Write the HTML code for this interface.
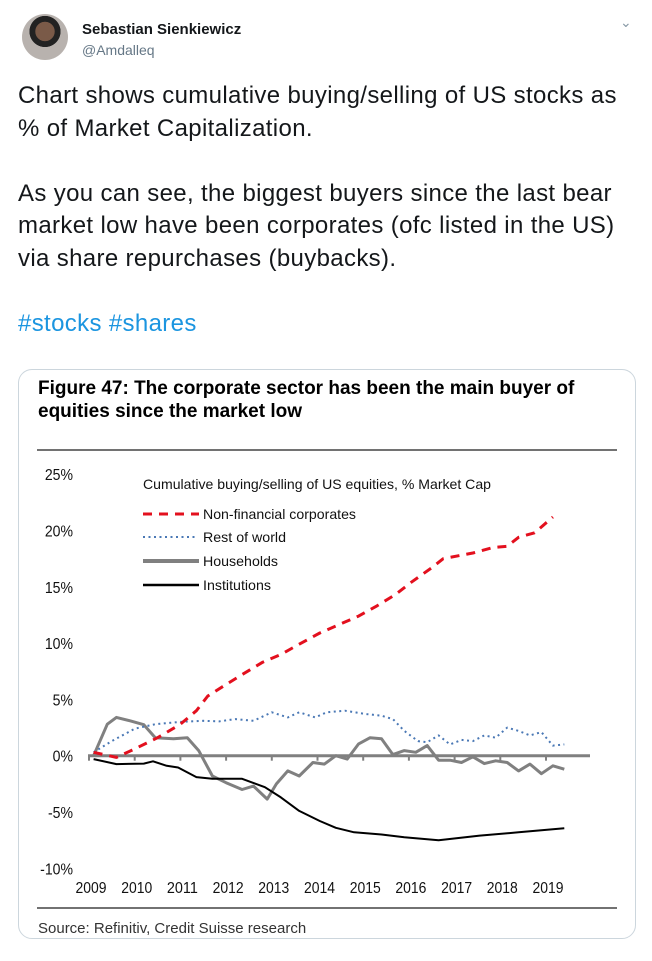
<!DOCTYPE html>
<html><head><meta charset="utf-8">
<style>
body{margin:0;background:#fff;width:652px;height:961px;overflow:hidden;font-family:"Liberation Sans",sans-serif;position:relative}
.abs{position:absolute}
#avatar{left:22px;top:14px;width:46px;height:46px;border-radius:50%;background:radial-gradient(circle at 50% 38%,#7a5a48 0 26%,#222 27% 42%,#b8b2ae 43%);}
#name{left:82px;top:21px;font-weight:bold;font-size:15px;color:#14171a}
#handle{left:82px;top:42px;font-size:14px;color:#657786}
#caret{left:620px;top:14px;color:#8899a6;font-size:14px}
#body{left:18px;top:80px;font-size:24px;letter-spacing:0.35px;line-height:32.5px;color:#14171a;white-space:nowrap}
.tag{color:#1b95e0}
#card{left:18px;top:369px;width:618px;height:570px;border:1px solid #ccd6dd;border-radius:14px;box-sizing:border-box;overflow:hidden}
#title{left:38px;top:377px;font-weight:bold;font-size:19px;line-height:23px;color:#000}
#source{left:38px;top:920px;font-size:15px;color:#333}
</style></head><body>
<div class="abs" id="avatar"></div>
<div class="abs" id="name">Sebastian Sienkiewicz</div>
<div class="abs" id="handle">@Amdalleq</div>
<div class="abs" id="caret">&#8964;</div>
<div class="abs" id="body">Chart shows cumulative buying/selling of US stocks as<br>% of Market Capitalization.<br><br>As you can see, the biggest buyers since the last bear<br>market low have been corporates (ofc listed in the US)<br>via share repurchases (buybacks).<br><br><span class="tag">#stocks</span> <span class="tag">#shares</span></div>
<div class="abs" id="card"></div>
<div class="abs" id="title">Figure 47: The corporate sector has been the main buyer of<br>equities since the market low</div>
<svg class="abs" style="left:0;top:0" width="652" height="961" id="chart">
<line x1="37" y1="450" x2="617" y2="450" stroke="#444" stroke-width="1.5"/>
<line x1="37" y1="908" x2="617" y2="908" stroke="#444" stroke-width="1.5"/>
<g id="axes"></g><g id="series"></g>
<g font-family="Liberation Sans, sans-serif" font-size="14" fill="#111">
<text x="143" y="489" textLength="348" lengthAdjust="spacingAndGlyphs">Cumulative buying/selling of US equities, % Market Cap</text>
<line x1="143" y1="514" x2="199" y2="514" stroke="#e3101e" stroke-width="3" stroke-dasharray="9,7"/>
<text x="203" y="519" textLength="153" lengthAdjust="spacingAndGlyphs">Non-financial corporates</text>
<line x1="143" y1="537" x2="198" y2="537" stroke="#4a78b5" stroke-width="2" stroke-dasharray="2,3.5"/>
<text x="203" y="542" textLength="83" lengthAdjust="spacingAndGlyphs">Rest of world</text>
<line x1="143" y1="561" x2="199" y2="561" stroke="#808080" stroke-width="4"/>
<text x="203" y="566" textLength="75" lengthAdjust="spacingAndGlyphs">Households</text>
<line x1="143" y1="585" x2="199" y2="585" stroke="#000" stroke-width="2.5"/>
<text x="203" y="590" textLength="68" lengthAdjust="spacingAndGlyphs">Institutions</text>
</g>
</svg>
<div class="abs" id="source">Source: Refinitiv, Credit Suisse research</div>
<script>
const yTicks=[25,20,15,10,5,0,-5,-10];
const yTickLabels=["25%","20%","15%","10%","5%","0%","-5%","-10%"];
const xYears=[2009,2010,2011,2012,2013,2014,2015,2016,2017,2018,2019];
const corpX=[2009.1,2009.6,2010.0,2010.5,2011.0,2011.35,2011.6,2011.95,2012.35,2012.8,2013.2,2013.6,2014.05,2014.5,2014.9,2015.3,2015.7,2016.05,2016.5,2016.75,2017.4,2017.85,2018.15,2018.4,2018.75,2019.15];
const corpY=[0.3,-0.15,0.6,1.6,2.8,4.0,5.3,6.2,7.2,8.3,9.0,9.9,10.9,11.7,12.4,13.3,14.3,15.4,16.7,17.5,18.0,18.5,18.6,19.4,19.8,21.2];
const rowX=[2009.1,2009.5,2010.0,2010.45,2011.0,2011.5,2011.85,2012.2,2012.6,2013.0,2013.35,2013.6,2013.95,2014.2,2014.6,2015.05,2015.4,2015.65,2015.9,2016.2,2016.4,2016.65,2016.9,2017.15,2017.4,2017.65,2017.9,2018.15,2018.4,2018.65,2018.9,2019.15,2019.4];
const rowY=[0.3,1.3,2.4,2.8,3.0,3.1,3.05,3.25,3.1,3.85,3.4,3.85,3.4,3.85,4.0,3.7,3.55,3.25,2.2,1.3,1.2,1.8,1.0,1.4,1.3,1.8,1.6,2.5,2.2,1.8,2.1,0.9,1.0];
const hhX=[2009.1,2009.4,2009.6,2009.9,2010.2,2010.45,2010.85,2011.15,2011.4,2011.7,2012.0,2012.35,2012.6,2012.9,2013.1,2013.35,2013.6,2013.9,2014.15,2014.4,2014.65,2014.9,2015.15,2015.4,2015.65,2015.9,2016.15,2016.4,2016.65,2016.9,2017.15,2017.4,2017.65,2017.9,2018.15,2018.4,2018.65,2018.9,2019.15,2019.4];
const hhY=[0,2.8,3.4,3.1,2.75,1.6,1.5,1.6,0.45,-1.8,-2.4,-3.0,-2.7,-3.85,-2.5,-1.35,-1.8,-0.6,-0.75,0,-0.3,1.05,1.6,1.5,0.1,0.45,0.3,0.9,-0.4,-0.4,-0.6,-0.1,-0.7,-0.45,-0.6,-1.35,-0.75,-1.6,-0.9,-1.2];
const instX=[2009.1,2009.6,2010.2,2010.4,2010.7,2010.95,2011.35,2011.7,2012.35,2012.85,2013.2,2013.6,2014.05,2014.4,2014.8,2015.4,2015.9,2016.65,2017.55,2018.4,2019.4];
const instY=[-0.3,-0.75,-0.7,-0.5,-0.9,-1.05,-1.9,-2.05,-2.05,-2.8,-3.7,-4.9,-5.8,-6.4,-6.8,-7.0,-7.25,-7.5,-7.1,-6.8,-6.45];
const NS='http://www.w3.org/2000/svg';
const xs=yr=>89+(yr-2009)*45.7;
const ys=v=>755.7-v*11.26;
const ax=document.getElementById('axes'), sr=document.getElementById('series');
function mk(tag,at,parent){const e=document.createElementNS(NS,tag);for(const k in at)e.setAttribute(k,at[k]);parent.appendChild(e);return e;}
yTicks.forEach((v,i)=>{const t=mk('text',{x:73,y:ys(v)+6,'text-anchor':'end','font-size':'16','font-family':'Liberation Sans, sans-serif',fill:'#111',transform:`translate(73 0) scale(0.88 1) translate(-73 0)`},ax);t.textContent=yTickLabels[i];

});
xYears.forEach(yr=>{const t=mk('text',{x:xs(yr)+2,y:893,'text-anchor':'middle','font-size':'16','font-family':'Liberation Sans, sans-serif',fill:'#111',textLength:'31',lengthAdjust:'spacingAndGlyphs'},ax);t.textContent=yr;


const k=mk('line',{x1:xs(yr),x2:xs(yr),y1:ys(0),y2:ys(0)+5,stroke:'#808080','stroke-width':2},ax);

});
const zl=mk('line',{x1:xs(2009)-1,x2:590,y1:ys(0),y2:ys(0),stroke:'#808080','stroke-width':3},ax);


function series(X,Y,at,name){const d=X.map((x,i)=>(i?'L':'M')+xs(x).toFixed(1)+','+ys(Y[i]).toFixed(1)).join(' ');const p=mk('path',Object.assign({d:d,fill:'none','stroke-linejoin':'round'},at),sr);

}
series(hhX,hhY,{stroke:'#808080','stroke-width':3},'households-line');
series(instX,instY,{stroke:'#000','stroke-width':2},'institutions-line');
series(rowX,rowY,{stroke:'#4a78b5','stroke-width':2,'stroke-dasharray':'2,3.5'},'rest-of-world-line');
series(corpX,corpY,{stroke:'#e3101e','stroke-width':3,'stroke-dasharray':'9,7'},'corporates-line');
</script>
</body></html>
